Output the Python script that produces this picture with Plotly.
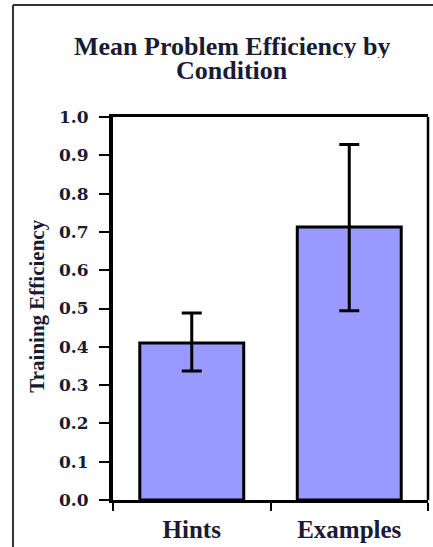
import plotly.graph_objects as go

categories = ["Hints", "Examples"]
mean_efficiency = [0.41, 0.713]
error_plus = [0.078, 0.215]
error_minus = [0.073, 0.219]
y_ticks = [0.0, 0.1, 0.2, 0.3, 0.4, 0.5, 0.6, 0.7, 0.8, 0.9, 1.0]
y_tick_labels = ["0.0", "0.1", "0.2", "0.3", "0.4", "0.5", "0.6", "0.7", "0.8", "0.9", "1.0"]
title_lines = ["Mean Problem Efficiency by", "Condition"]
y_title = "Training Efficiency"

TXT = "#1a1a33"
SERIF = "Liberation Serif, Times New Roman, serif"

fig = go.Figure(go.Bar(
    x=categories,
    y=mean_efficiency,
    marker=dict(color="#9999ff", line=dict(color="black", width=3)),
    error_y=dict(type="data", symmetric=False, array=error_plus, arrayminus=error_minus,
                 color="black", thickness=3, width=10),
))

fig.update_layout(
    width=433, height=547,
    margin=dict(l=113, r=5, t=117, b=47),
    paper_bgcolor="white", plot_bgcolor="white",
    bargap=0.34,
    showlegend=False,
    xaxis=dict(
        showline=True, linecolor="black", linewidth=2.5, mirror=True,
        ticks="outside", tickson="boundaries", ticklen=8, tickwidth=2, tickcolor="black",
        tickfont=dict(family=SERIF, size=25, color=TXT, weight="bold"),
        ticklabelstandoff=5,
        showgrid=False, zeroline=False,
    ),
    yaxis=dict(
        range=[0, 1], tickvals=y_ticks, ticktext=y_tick_labels,
        showline=True, linecolor="black", linewidth=4, mirror=False,
        ticks="outside", ticklen=10, tickwidth=2, tickcolor="black",
        tickfont=dict(family="DejaVu Serif, serif", size=17, color=TXT, weight="bold"),
        ticklabelstandoff=7,
        showgrid=False, zeroline=False,
    ),
    annotations=[
        dict(text=title_lines[0], xref="paper", yref="paper", x=0.378, y=1.186,
             xanchor="center", yanchor="middle", showarrow=False, height=24,
             font=dict(family=SERIF, size=26, color=TXT, weight="bold")),
        dict(text=title_lines[1], xref="paper", yref="paper", x=0.378, y=1.1227,
             xanchor="center", yanchor="middle", showarrow=False, height=24,
             font=dict(family=SERIF, size=26, color=TXT, weight="bold")),
        dict(text=y_title, xref="paper", yref="paper", x=-0.244, y=0.505,
             xanchor="center", yanchor="middle", textangle=-90, showarrow=False,
             font=dict(family=SERIF, size=21, color=TXT, weight="bold")),
    ],
    shapes=[
        dict(type="line", xref="paper", yref="paper", x0=1, x1=1, y0=0, y1=1,
             line=dict(color="black", width=2.5)),
        dict(type="line", xref="paper", yref="paper", x0=-0.3175, x1=1.1, y0=1.2924, y1=1.2924,
             line=dict(color="#333333", width=2)),
        dict(type="line", xref="paper", yref="paper", x0=-0.3175, x1=-0.3175, y0=-0.2, y1=1.2924,
             line=dict(color="#333333", width=2)),
    ],
)

fig.write_html("out.html",
               config={"displayModeBar": False},
               post_script="document.documentElement.style.overflow='hidden';"
                           "document.body.style.margin='0';document.body.style.overflow='hidden';")
